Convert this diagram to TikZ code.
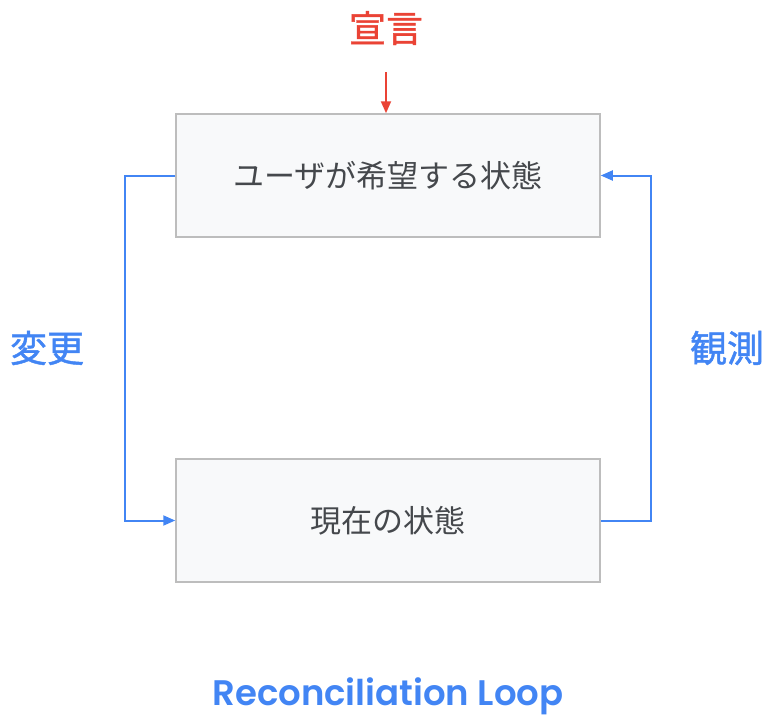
\documentclass[tikz,border=0pt]{standalone}
\usepackage{fontspec}
\setmainfont{Poppins}
\newfontfamily\cjk{Noto Sans CJK JP}
\newfontfamily\cjkmed[FakeBold=1.2]{Noto Sans CJK JP}
\newfontfamily\titlefont{Poppins SemiBold}
\usetikzlibrary{arrows.meta}
\definecolor{gblue}{HTML}{4285F4}
\definecolor{gred}{HTML}{EA4335}
\definecolor{boxfill}{HTML}{F8F9FA}
\definecolor{boxline}{HTML}{BDBDBD}
\definecolor{txt}{HTML}{45484C}
\tikzset{
  statebox/.style={draw=boxline, line width=1.5pt, fill=boxfill, minimum width=424pt, minimum height=123pt, inner sep=0pt, font=\cjk\fontsize{31}{36}\selectfont, text=txt},
  bluelbl/.style={text=gblue, font=\cjkmed\fontsize{37}{42}\selectfont, inner sep=0pt},
  flow/.style={gblue, line width=2pt, -{Triangle[length=12pt,width=10pt]}},
}
\begin{document}
\begin{tikzpicture}[x=1pt,y=-1pt]
\useasboundingbox (0,0) rectangle (765,718);
\node[statebox] (desired) at (388,175.5) {ユーザが希望する状態};
\node[statebox] (current) at (388,520.5) {現在の状態};
\node[text=gred, font=\cjkmed\fontsize{37}{42}\selectfont, inner sep=0pt] (decl) at (386,28) {宣言};
\coordinate (decltail) at (386,72);
\draw[gred, line width=2pt, -{Triangle[length=12pt,width=10pt]}] (decltail) -- (desired.north -| decltail);
\node[bluelbl] (change) at (47,348) {変更};
\node[bluelbl] (observe) at (727,348) {観測};
\draw[flow] (desired.west) -- ++(-50,0) |- (current.west);
\draw[flow] (current.east) -- ++(50,0) |- (desired.east);
\node[text=gblue, font=\titlefont\fontsize{35.5}{40}\selectfont, inner sep=0pt] (title) at (388,696) {Reconciliation Loop};
\end{tikzpicture}
\end{document}
